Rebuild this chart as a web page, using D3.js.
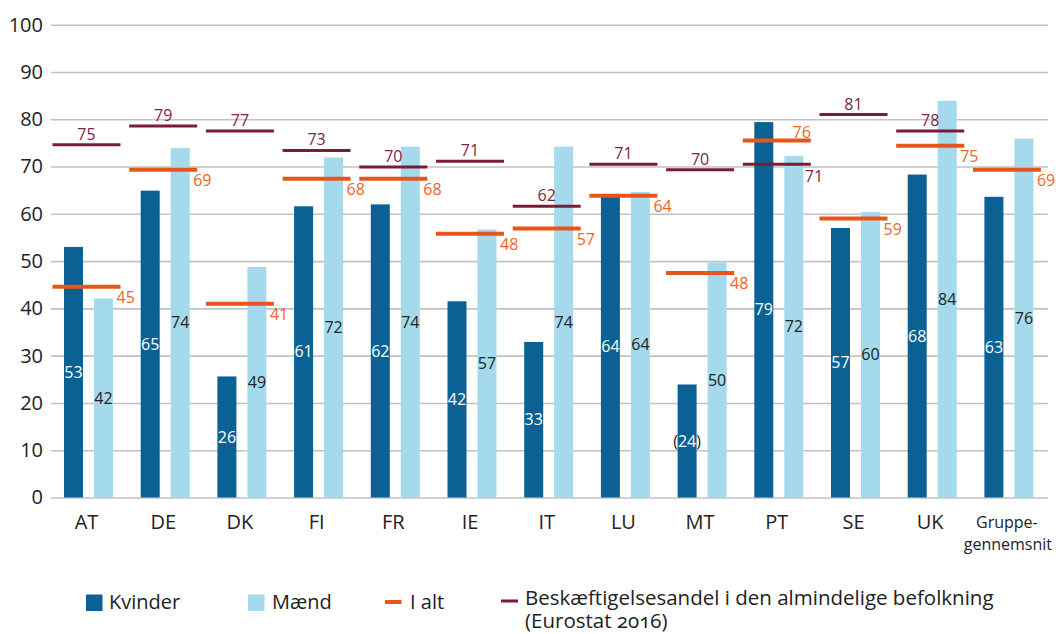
<!DOCTYPE html>
<html>
<head>
<meta charset="utf-8">
<script src="https://cdn.jsdelivr.net/npm/d3@7"></script>
<style>
  html, body { margin: 0; padding: 0; background: #fff; }
  svg { display: block; font-family: "Open Sans", "Noto Sans", sans-serif; }
</style>
</head>
<body>
<svg id="chart" width="1056" height="634"></svg>
<script>
const categories = ["AT","DE","DK","FI","FR","IE","IT","LU","MT","PT","SE","UK","Gruppe-gennemsnit"];
const kvinder       = [53.0, 64.9, 25.6, 61.6, 62.0, 41.5, 32.9, 63.8, 23.9, 79.4, 57.0, 68.3, 63.6];
const kvinderLabels = ["53","65","26","61","62","42","33","64","(24)","79","57","68","63"];
const maend         = [42.1, 73.9, 48.75, 71.9, 74.2, 56.7, 74.2, 64.6, 49.7, 72.2, 60.4, 83.9, 75.9];
const maendLabels   = ["42","74","49","72","74","57","74","64","50","72","60","84","76"];
const iAlt          = [44.6, 69.3, 41.0, 67.4, 67.4, 55.8, 56.9, 63.8, 47.5, 75.5, 59.0, 74.4, 69.3];
const iAltLabels    = ["45","69","41","68","68","48","57","64","48","76","59","75","69"];
const eurostat      = [74.6, 78.6, 77.5, 73.4, 69.9, 71.1, 61.6, 70.5, 69.3, 70.5, 81.0, 77.5, null];
const eurostatLabels= ["75","79","77","73","70","71","62","71","70","71","81","78",null];
const swappedLabelCats = ["PT"];
const yTicks = [0,10,20,30,40,50,60,70,80,90,100];
const seriesNames = ["Kvinder","Mænd"];

const C = {
  dark: "#0b6194", light: "#a5d9ec", orange: "#e8551b", maroon: "#7a1b38",
  orangeText: "#f06428", maroonText: "#7d2447", grid: "#c2c2c2", text: "#222"
};

const svg = d3.select("#chart");
const y = d3.scaleLinear().domain([0,100]).range([497.5, 24.7]);
const x = d3.scaleBand().domain(categories).range([48.15, 1045.25]).padding(0);
const xSub = d3.scaleBand().domain(seriesNames).range([-22.5, 26.5]).paddingInner(2 - 49/30).paddingOuter(0);
const cx = c => x(c) + x.bandwidth()/2;
const gridX0 = 51, gridX1 = 1048;

// y axis + gridlines
const yAxis = d3.axisLeft(y).tickValues(yTicks).tickSize(-(gridX1 - gridX0)).tickPadding(8);
const gy = svg.append("g").attr("transform", `translate(${gridX0},0)`).call(yAxis);
gy.select(".domain").remove();
gy.selectAll(".tick line").attr("stroke", C.grid).attr("stroke-width", 1.6);
gy.selectAll(".tick text").attr("fill", C.text).attr("font-size", 20)
  .attr("font-family", "'Open Sans', sans-serif").attr("x", -8);

// bars
const rows = categories.map((c,i) => ({c, i}));
const gBars = svg.append("g");
gBars.selectAll("rect.k").data(rows).join("rect")
  .attr("x", d => cx(d.c) + xSub("Kvinder")).attr("width", xSub.bandwidth())
  .attr("y", d => y(kvinder[d.i])).attr("height", d => y(0) - y(kvinder[d.i]))
  .attr("fill", C.dark);
gBars.selectAll("rect.m").data(rows).join("rect").attr("class","m")
  .attr("x", d => cx(d.c) + xSub("Mænd")).attr("width", xSub.bandwidth())
  .attr("y", d => y(maend[d.i])).attr("height", d => y(0) - y(maend[d.i]))
  .attr("fill", C.light);

// bar labels (middle of bar)
const gBL = svg.append("g").attr("font-size", 16).attr("text-anchor", "middle");
gBL.selectAll("text.k").data(rows).join("text").attr("class","k")
  .attr("x", d => cx(d.c) + xSub("Kvinder") + xSub.bandwidth()/2)
  .attr("y", d => (y(kvinder[d.i]) + y(0))/2).attr("dy", "0.35em")
  .attr("fill", "#fff")
  .each(function(d){
    const lab = kvinderLabels[d.i];
    const t = d3.select(this);
    const m = lab.match(/^(\()(.*)(\))$/);
    if (m) {
      t.append("tspan").attr("fill", C.text).text(m[1]);
      t.append("tspan").text(m[2]);
      t.append("tspan").attr("fill", C.text).text(m[3]);
    } else t.text(lab);
  });
gBL.selectAll("text.m").data(rows).join("text").attr("class","m")
  .attr("x", d => cx(d.c) + xSub("Mænd") + xSub.bandwidth()/2)
  .attr("y", d => (y(maend[d.i]) + y(0))/2).attr("dy", "0.35em")
  .attr("fill", C.text).text(d => maendLabels[d.i]);

// horizontal marker lines
const halfW = 34;
const gL = svg.append("g");
gL.selectAll("line.o").data(rows).join("line").attr("class","o")
  .attr("x1", d => cx(d.c) - halfW).attr("x2", d => cx(d.c) + halfW)
  .attr("y1", d => y(iAlt[d.i])).attr("y2", d => y(iAlt[d.i]))
  .attr("stroke", C.orange).attr("stroke-width", 4);
gL.selectAll("line.e").data(rows.filter(d => eurostat[d.i] != null)).join("line").attr("class","e")
  .attr("x1", d => cx(d.c) - halfW).attr("x2", d => cx(d.c) + halfW)
  .attr("y1", d => y(eurostat[d.i])).attr("y2", d => y(eurostat[d.i]))
  .attr("stroke", C.maroon).attr("stroke-width", 3);

// line labels
const gLL = svg.append("g").attr("font-size", 16);
gLL.selectAll("text.o").data(rows).join("text").attr("class","o")
  .each(function(d){
    const sw = swappedLabelCats.includes(d.c);
    const t = d3.select(this);
    if (sw) {
      t.attr("x", cx(d.c) + halfW).attr("y", y(iAlt[d.i]) - 3).attr("text-anchor","end");
    } else {
      t.attr("x", cx(d.c) + halfW - 4).attr("y", y(iAlt[d.i]) + 16.5).attr("text-anchor","start");
    }
  })
  .attr("fill", C.orangeText).text(d => iAltLabels[d.i]);
gLL.selectAll("text.e").data(rows.filter(d => eurostat[d.i] != null)).join("text").attr("class","e")
  .each(function(d){
    const sw = swappedLabelCats.includes(d.c);
    const t = d3.select(this);
    if (sw) {
      t.attr("x", cx(d.c) + halfW - 6).attr("y", y(eurostat[d.i]) + 17.5).attr("text-anchor","start");
    } else {
      t.attr("x", cx(d.c)).attr("y", y(eurostat[d.i]) - 5).attr("text-anchor","middle");
    }
  })
  .attr("fill", C.maroonText).text(d => eurostatLabels[d.i]);

// x axis labels
const xAxis = d3.axisBottom(x).tickSize(0).tickPadding(0);
const gx = svg.append("g").attr("transform", `translate(0,${y(0)})`).call(xAxis);
gx.select(".domain").remove();
gx.selectAll(".tick text").attr("fill", C.text).attr("font-family","'Open Sans', sans-serif")
  .each(function(d){
    const t = d3.select(this);
    t.text(null).attr("dy", null);
    if (d === "Gruppe-gennemsnit") {
      t.attr("font-size", 16);
      t.append("tspan").attr("x", 0).attr("y", 30).text("Gruppe-");
      t.append("tspan").attr("x", 1).attr("y", 52).text("gennemsnit");
    } else {
      t.attr("font-size", 20).attr("y", 31.5).text(d);
    }
  });

// legend
const gLeg = svg.append("g").attr("font-size", 20).attr("fill", C.text);
gLeg.append("rect").attr("x", 86).attr("y", 594.5).attr("width", 16.5).attr("height", 16.5).attr("fill", C.dark);
gLeg.append("text").attr("x", 109).attr("y", 608.5).text(seriesNames[0]);
gLeg.append("rect").attr("x", 248).attr("y", 594.5).attr("width", 16.5).attr("height", 16.5).attr("fill", C.light);
gLeg.append("text").attr("x", 272).attr("y", 608.5).text(seriesNames[1]);
gLeg.append("line").attr("x1", 385).attr("x2", 401.5).attr("y1", 602).attr("y2", 602)
  .attr("stroke", C.orange).attr("stroke-width", 4);
gLeg.append("text").attr("x", 410).attr("y", 608.5).text("I alt");
gLeg.append("line").attr("x1", 501).attr("x2", 518).attr("y1", 601).attr("y2", 601)
  .attr("stroke", C.maroon).attr("stroke-width", 3);
gLeg.append("text").attr("x", 525).attr("y", 605).attr("font-size", 20.5)
  .text("Beskæftigelsesandel i den almindelige befolkning");
gLeg.append("text").attr("x", 525).attr("y", 628).attr("font-size", 20.5)
  .style("font-variant-numeric","oldstyle-nums").text("(Eurostat 2016)");
</script>
</body>
</html>
